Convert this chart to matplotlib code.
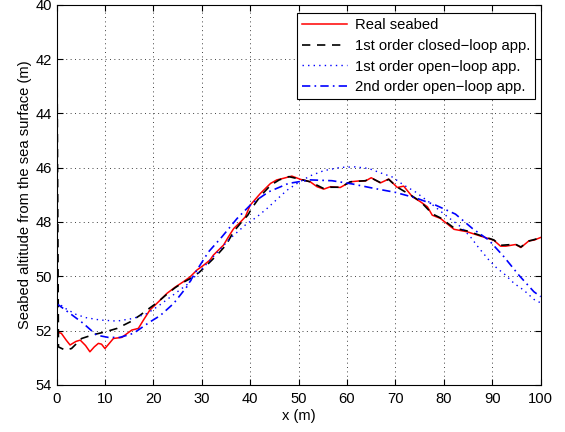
import numpy as np
from matplotlib import pyplot as plt

plt.rcParams.update({'font.size': 10.6, 'font.family': ['Liberation Sans', 'DejaVu Sans']})

# Real seabed
x_real = [0, 1, 2, 2.8, 4, 4.9, 6, 6.9, 7.8, 8.65, 9.3, 10, 11, 11.75, 13.5, 15.55, 16.9, 18, 19.3, 21,
          22.8, 24.5, 26.2, 27.6, 29, 30.4, 31.7, 32.4, 34.5, 35.5, 36.6, 38, 39, 40, 42.1, 44.2, 45.5,
          46.9, 48.6, 50.4, 52.4, 53.8, 55.2, 56.6, 58.6, 60.7, 62.4, 63.8, 65, 66.9, 68.6, 70.4, 71.7,
          73.5, 75.2, 76.6, 77.6, 79.3, 82.1, 84.8, 87.6, 90.3, 91.7, 92.8, 94.8, 95.9, 97.6, 98.6, 100]
y_real = [52.05, 52.1, 52.35, 52.53, 52.4, 52.35, 52.55, 52.78, 52.6, 52.47, 52.5, 52.66, 52.45, 52.29,
          52.25, 51.98, 51.92, 51.6, 51.24, 50.95, 50.63, 50.4, 50.2, 50.02, 49.77, 49.59, 49.4, 49.22,
          48.85, 48.55, 48.24, 48.0, 47.81, 47.38, 46.95, 46.58, 46.45, 46.39, 46.31, 46.43, 46.52, 46.7,
          46.79, 46.7, 46.73, 46.52, 46.49, 46.49, 46.37, 46.56, 46.42, 46.73, 46.68, 47.07, 47.26, 47.44,
          47.75, 47.87, 48.27, 48.36, 48.52, 48.67, 48.89, 48.89, 48.83, 48.94, 48.69, 48.67, 48.57]

# 1st order closed-loop
x_cl = [0, 0.4, 1.8, 3.1, 5.2, 7.6, 10, 12.5, 15.2, 17.3, 18.7, 20.7, 22.8, 24.5, 26.2, 28, 29.5, 30.4,
        32, 33.5, 35, 36.6, 38, 39.5, 40.5, 42.1, 44.2, 46, 48, 50.4, 52.4, 55.2, 56.6, 58.6, 60.7, 63.8,
        65, 66.9, 68.6, 70.4, 73.5, 75.2, 77.6, 79.3, 82.1, 84.8, 87.6, 90.3, 91.7, 94.8, 95.9, 97.6, 100]
y_cl = [38, 52.6, 52.72, 52.66, 52.29, 52.15, 52.05, 51.92, 51.68, 51.43, 51.24, 50.98, 50.66, 50.42,
        50.22, 50.05, 49.85, 49.7, 49.42, 49.15, 48.85, 48.35, 48.05, 47.75, 47.45, 47.05, 46.65, 46.45,
        46.33, 46.43, 46.52, 46.77, 46.72, 46.72, 46.52, 46.48, 46.38, 46.55, 46.43, 46.72, 47.05, 47.25,
        47.7, 47.85, 48.22, 48.33, 48.5, 48.66, 48.86, 48.82, 48.92, 48.7, 48.58]

# 1st order open-loop
x_ol1 = [0, 2, 4, 6, 9, 12.5, 15.9, 18.7, 21, 24, 27, 29.7, 32, 35.9, 39, 41.4, 43.5, 45.5, 47.6, 49.7,
         52.4, 55.2, 58.6, 61.7, 64.5, 66.9, 69.3, 71.7, 74.1, 76.9, 80.7, 83.5, 85.5, 87.2, 89.3, 91,
         92.4, 94.5, 96.5, 98.6, 100]
y_ol1 = [50.95, 51.2, 51.4, 51.52, 51.61, 51.65, 51.55, 51.37, 51.1, 50.7, 50.3, 49.8, 49.35, 48.6,
         48.11, 47.81, 47.5, 47.17, 46.83, 46.58, 46.3, 46.11, 45.99, 45.97, 46.03, 46.19, 46.34, 46.64,
         46.89, 47.26, 47.8, 48.18, 48.55, 48.95, 49.4, 49.71, 49.9, 50.26, 50.51, 50.85, 50.98]

# 2nd order open-loop
x_ol2 = [0, 2.8, 5.5, 8.3, 10.7, 13.1, 15.9, 19.3, 21.4, 24.2, 26.9, 29, 31.4, 34.2, 37.3, 40.4, 43.8,
         47.9, 52.4, 56.9, 61.1, 65.5, 70, 74.3, 78.3, 82.4, 85.9, 89.3, 92.4, 95.5, 98.6, 100]
y_ol2 = [51.0, 51.37, 51.73, 52.17, 52.25, 52.25, 52.1, 51.68, 51.45, 51.0, 50.39, 49.77, 49.1, 48.54,
         47.87, 47.31, 46.89, 46.58, 46.45, 46.48, 46.6, 46.76, 46.91, 47.12, 47.38, 47.71, 48.24, 48.67,
         49.28, 49.96, 50.57, 50.75]

fig = plt.figure(figsize=(5.65, 4.32), dpi=100)
ax = fig.add_axes([0.1, 0.109, 0.857, 0.880])

ax.plot(x_real, y_real, '-', color='red', lw=1.1, label='Real seabed')
ax.plot(x_cl, y_cl, '--', color='black', lw=1.2, dashes=(5, 4), label='1st order closed\u2212loop app.')
ax.plot(x_ol1, y_ol1, ':', color='blue', lw=1.0, dashes=(1, 3), label='1st order open\u2212loop app.')
ax.plot(x_ol2, y_ol2, '-.', color='blue', lw=1.2, dashes=(5, 2.5, 1, 2.5), label='2nd order open\u2212loop app.')

ax.set_xlim(0, 100)
ax.set_ylim(54, 40)
ax.set_xticks(np.arange(0, 101, 10))
ax.set_yticks(np.arange(40, 55, 2))
ax.grid(True, linestyle=(0, (1, 3.5)), color='0.25', lw=0.7)
ax.tick_params(direction='in', top=True, right=True, length=4)
ax.tick_params(axis='x', pad=5)
ax.set_xlabel('x (m)', labelpad=2.5)
ax.set_ylabel('Seabed altitude from the sea surface (m)', labelpad=2)

leg = ax.legend(loc='upper right', bbox_to_anchor=(0.9887, 0.978), borderaxespad=0,
                fancybox=False, edgecolor='black', framealpha=1,
                handlelength=3.1, handletextpad=0.5, labelspacing=0.45, borderpad=0.35)
leg.get_frame().set_linewidth(0.8)

plt.savefig('out.png', dpi=100)
